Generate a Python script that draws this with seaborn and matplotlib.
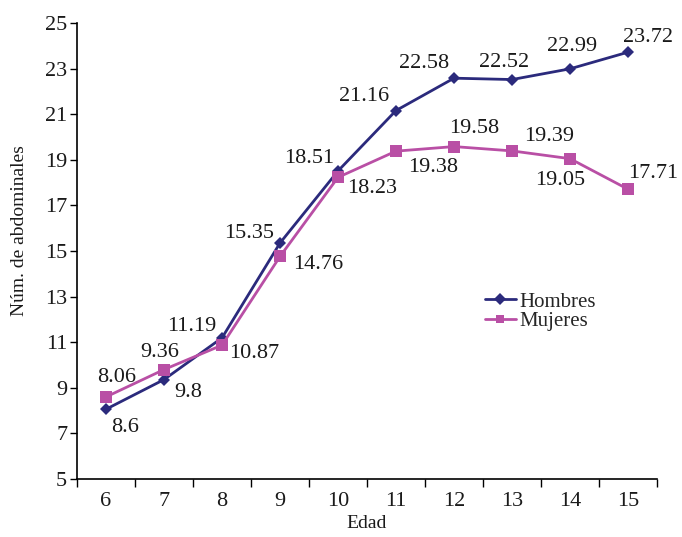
import pandas as pd
import matplotlib
matplotlib.use("Agg")
import matplotlib.pyplot as plt
import seaborn as sns

edad = [6, 7, 8, 9, 10, 11, 12, 13, 14, 15]
hombres = [8.06, 9.36, 11.19, 15.35, 18.51, 21.16, 22.58, 22.52, 22.99, 23.72]
mujeres = [8.6, 9.8, 10.87, 14.76, 18.23, 19.38, 19.58, 19.39, 19.05, 17.71]

# desplazamientos de las etiquetas (pixeles)
off_h = [(11, 32), (-4, 27), (-30, 11), (-31, 10), (-29, 12), (-32, 14), (-30, 15), (-8, 17), (2, 22), (20, 15)]
off_m = [(19, -31), (24, -23), (32, -8), (38, -8), (34, -11), (37, -16), (20, 18), (37, 14), (-10, -22), (25, 16)]

df = pd.DataFrame({
    "Edad": edad * 2,
    "valor": hombres + mujeres,
    "sexo": ["Hombres"] * len(edad) + ["Mujeres"] * len(edad),
})

sns.set_style("white")
plt.rcParams["font.family"] = ["Liberation Serif", "DejaVu Serif"]

colores = {"Hombres": "#2B2A7C", "Mujeres": "#B94FA5"}

fig = plt.figure(figsize=(6.82, 5.37), dpi=100)
ax = fig.add_axes([77 / 682, 58 / 537, 580 / 682, 456 / 537])

sns.lineplot(data=df, x="Edad", y="valor", hue="sexo", style="sexo",
             markers={"Hombres": "D", "Mujeres": "s"}, dashes=False,
             palette=colores, linewidth=2.0, markeredgewidth=0, ax=ax)
for line, ms in zip(ax.lines, [6, 8]):
    line.set_markersize(ms)

for x, y, o in zip(edad, hombres, off_h):
    ax.annotate(f"{y:g}", (x, y), xytext=o, textcoords="offset pixels",
                ha="center", va="center", fontsize=16, color="#1a1a1a")
for x, y, o in zip(edad, mujeres, off_m):
    ax.annotate(f"{y:g}", (x, y), xytext=o, textcoords="offset pixels",
                ha="center", va="center", fontsize=16, color="#1a1a1a")

ax.set_xlim(5.5, 15.5)
ax.set_ylim(5, 25)
ax.set_xticks(edad)
ax.set_xticks([e - 0.5 for e in edad] + [15.5], minor=True)
ax.set_yticks(range(5, 26, 2))
ax.tick_params(axis="x", which="major", length=0, labelsize=16, pad=9, colors="#1a1a1a")
ax.tick_params(axis="x", which="minor", length=6, width=1, direction="out", bottom=True)
ax.tick_params(axis="y", length=5, width=1, direction="out", left=True, labelsize=16, pad=2,
               colors="#1a1a1a")
ax.tick_params(axis="both", which="both", color="black")

for s in ["top", "right"]:
    ax.spines[s].set_visible(False)
for s in ["left", "bottom"]:
    ax.spines[s].set_color("black")
    ax.spines[s].set_linewidth(1.2)

ax.set_xlabel("Edad", fontsize=14, labelpad=3, color="#1a1a1a")
ax.set_ylabel("Núm. de abdominales", fontsize=14, color="#1a1a1a")
ax.yaxis.set_label_coords(-0.084, 0.545)

ax.legend(title=None, loc="upper left", bbox_to_anchor=(0.703, 0.41),
          frameon=False, fontsize=15, borderaxespad=0, borderpad=0,
          handlelength=1.5, handletextpad=0.15, labelspacing=0.0)

fig.savefig("out.png", dpi=100)
